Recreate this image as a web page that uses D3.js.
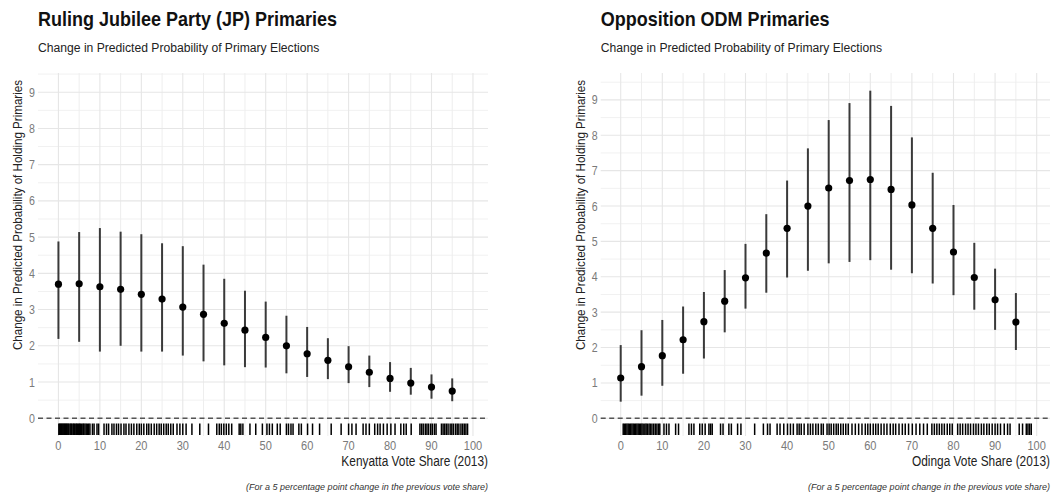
<!DOCTYPE html>
<html lang="en">
<head>
<meta charset="UTF-8">
<title>Primaries</title>
<script src="https://d3js.org/d3.v7.min.js"></script>
<style>
  body { margin: 0; background: #fff; }
  text { font-family: "Liberation Sans", Arial, Helvetica, sans-serif; }
</style>
</head>
<body>
<svg id="chart" width="1059" height="495"></svg>
<script>
// Werte
const voteShare = [0, 5, 10, 15, 20, 25, 30, 35, 40, 45, 50, 55, 60, 65, 70, 75, 80, 85, 90, 95];

const jpEst = [3.70, 3.71, 3.63, 3.56, 3.42, 3.29, 3.07, 2.87, 2.62, 2.43, 2.23, 2.00, 1.78, 1.60, 1.42, 1.27, 1.10, 0.97, 0.86, 0.75];
const jpLow = [2.19, 2.11, 1.84, 2.00, 1.84, 1.84, 1.73, 1.57, 1.46, 1.41, 1.40, 1.24, 1.14, 1.08, 0.97, 0.86, 0.73, 0.65, 0.54, 0.47];
const jpHigh = [4.88, 5.14, 5.25, 5.15, 5.08, 4.83, 4.75, 4.24, 3.85, 3.52, 3.22, 2.83, 2.52, 2.21, 1.99, 1.73, 1.55, 1.39, 1.21, 1.10];

const odmEst = [1.14, 1.46, 1.77, 2.22, 2.73, 3.31, 3.97, 4.67, 5.37, 6.00, 6.51, 6.72, 6.75, 6.47, 6.03, 5.37, 4.70, 3.98, 3.35, 2.72];
const odmLow = [0.47, 0.64, 0.92, 1.26, 1.69, 2.43, 3.10, 3.55, 3.98, 4.17, 4.38, 4.42, 4.47, 4.20, 4.10, 3.81, 3.48, 3.07, 2.50, 1.93];
const odmHigh = [2.07, 2.49, 2.78, 3.16, 3.57, 4.19, 4.93, 5.77, 6.72, 7.63, 8.43, 8.91, 9.26, 8.83, 7.94, 6.94, 6.03, 4.96, 4.23, 3.54];

// Rug: beobachtete Stimmenanteile (geschätzt)
const kenyattaRug = [
  0.1, 0.3, 0.5, 0.7, 0.9, 1.1, 1.3, 1.5, 1.7, 1.9, 2.1, 2.3, 2.5, 2.8, 3.0, 3.2, 3.5, 3.7, 3.9, 4.2, 4.4, 4.6, 4.9, 5.1, 5.3, 5.6, 5.9, 6.1, 6.4, 6.7, 7.0, 7.3, 7.6,
  8.2, 8.6, 9.3, 9.7,
  11.0, 11.6, 12.1, 12.9, 13.4, 14.0, 14.5, 15.1, 15.8, 16.3, 17.0, 17.6, 18.2, 18.9, 19.5, 20.0, 20.6, 21.3, 21.8, 22.4, 23.1, 23.7, 24.3, 24.8, 25.4, 26.0, 26.5, 27.1, 27.7,
  28.6, 29.3, 30.0, 30.8, 32.2, 34.1, 36.2,
  38.2, 38.8, 39.3, 39.9, 40.5, 41.1, 41.8, 43.6, 44.0, 44.5, 46.2, 47.6, 49.2,
  50.3, 50.9, 51.6, 52.8, 53.5, 55.0, 55.5, 56.1, 56.6, 58.0, 58.6, 60.1, 61.3, 63.0, 65.8, 68.2,
  70.0, 70.8, 71.8, 73.5, 74.2, 75.0, 76.3, 77.0, 77.6, 78.4, 79.3, 80.2, 81.2, 82.6, 83.3, 83.9, 85.1,
  87.2, 87.6, 88.0, 88.5, 88.9, 89.3, 89.8, 90.2, 90.7, 91.1, 92.4, 92.8, 93.2, 93.6, 94.0, 94.5, 94.9, 95.3, 95.8, 96.2, 96.6, 97.1, 97.5, 97.9, 98.3, 98.7
];
const odingaRug = [
  0.6, 0.9, 1.2, 1.5, 1.8, 2.1, 2.4, 2.7, 3.0, 3.3, 3.6, 3.9, 4.2, 4.5, 4.8, 5.1, 5.4, 5.8, 6.1, 6.4, 6.8, 7.1, 7.5, 7.9, 8.3, 8.7, 9.1, 9.4,
  10.4, 11.0, 11.6, 13.2, 13.9, 16.4, 17.0, 17.6, 19.0, 19.6, 20.3, 21.2, 21.6, 22.0,
  24.0, 24.6, 26.0, 26.6, 28.1, 28.9, 32.2, 34.3, 35.3, 35.9,
  37.6, 38.3, 39.2, 40.1, 40.8, 41.5, 42.4, 42.9, 43.4, 44.1, 45.0, 45.6, 46.2, 46.9, 47.5, 48.2, 48.7,
  49.6, 50.1, 50.6, 51.2, 51.8, 52.3, 52.9, 53.5, 54.1, 54.7, 55.6, 56.4, 57.2, 58.0,
  58.8, 59.4, 60.0, 60.7, 61.3, 61.9, 62.6, 63.3, 64.0, 64.8, 65.5, 66.1, 66.9, 67.7, 68.4, 69.2,
  70.1, 71.0, 71.9, 72.8, 73.7, 74.8, 75.4, 76.0, 76.6, 77.2, 77.8, 78.5, 79.1, 79.7,
  81.0, 81.6, 82.2, 82.9, 83.5, 84.1, 84.8, 85.4, 86.0, 86.7, 87.3, 88.0, 88.6, 89.3, 90.0, 90.6, 91.3, 92.2, 93.0, 93.6,
  95.8, 96.6, 97.5, 97.9, 98.3, 98.7
];

const xTicks = [0, 10, 20, 30, 40, 50, 60, 70, 80, 90, 100];
const xMinor = [5, 15, 25, 35, 45, 55, 65, 75, 85, 95];
const yTicks = [0, 1, 2, 3, 4, 5, 6, 7, 8, 9];
const yMinor = [0.5, 1.5, 2.5, 3.5, 4.5, 5.5, 6.5, 7.5, 8.5, 9.5];

const titles = ["Ruling Jubilee Party (JP) Primaries", "Opposition ODM Primaries"];
const subtitle = "Change in Predicted Probability of Primary Elections";
const yTitle = "Change in Predicted Probability of Holding Primaries";
const xTitles = ["Kenyatta Vote Share (2013)", "Odinga Vote Share (2013)"];
const caption = "(For a 5 percentage point change in the previous vote share)";

const svg = d3.select('#chart');

// Schmale Schrift nachbilden: Text horizontal stauchen
function label(g, x, y, k, rot) {
  return g.append('text')
    .attr('transform', `translate(${x},${y})` + (rot ? ` rotate(${rot})` : '') + ` scale(${k},1)`);
}

const panels = [
  { left: 38, right: 488, xDom: [-4.93, 103.63], yDom: [-0.49, 9.53],
    est: jpEst, lo: jpLow, hi: jpHigh, rug: kenyattaRug, title: titles[0], xTitle: xTitles[0] },
  { left: 600.7, right: 1050, xDom: [-4.81, 103.2], yDom: [-0.50, 9.76],
    est: odmEst, lo: odmLow, hi: odmHigh, rug: odingaRug, title: titles[1], xTitle: xTitles[1] }
];

const panelTop = 73, panelBottom = 436;

panels.forEach(p => {
  const x = d3.scaleLinear().domain(p.xDom).range([p.left, p.right]);
  const y = d3.scaleLinear().domain(p.yDom).range([panelBottom, panelTop]);
  const g = svg.append('g');

  // Gitter
  g.selectAll('.ymin').data(yMinor).join('line')
    .attr('x1', p.left).attr('x2', p.right)
    .attr('y1', d => y(d)).attr('y2', d => y(d))
    .attr('stroke', '#f1f1f1').attr('stroke-width', 1);
  g.selectAll('.xmin').data(xMinor).join('line')
    .attr('y1', panelTop).attr('y2', panelBottom)
    .attr('x1', d => x(d)).attr('x2', d => x(d))
    .attr('stroke', '#eeeeee').attr('stroke-width', 1);
  g.selectAll('.ymaj').data(yTicks).join('line')
    .attr('x1', p.left).attr('x2', p.right)
    .attr('y1', d => y(d)).attr('y2', d => y(d))
    .attr('stroke', '#e6e6e6').attr('stroke-width', 1.1);
  g.selectAll('.xmaj').data(xTicks).join('line')
    .attr('y1', panelTop).attr('y2', panelBottom)
    .attr('x1', d => x(d)).attr('x2', d => x(d))
    .attr('stroke', '#e6e6e6').attr('stroke-width', 1.1);

  // Null-Linie
  g.append('line')
    .attr('x1', p.left).attr('x2', p.right)
    .attr('y1', y(0)).attr('y2', y(0))
    .attr('stroke', '#555').attr('stroke-width', 1.4)
    .attr('stroke-dasharray', '5,3.5');

  // Rug
  g.selectAll('.rug').data(p.rug).join('line')
    .attr('x1', d => x(d)).attr('x2', d => x(d))
    .attr('y1', panelBottom - 1).attr('y2', panelBottom - 12.5)
    .attr('stroke', '#000').attr('stroke-width', 1.5);

  // Fehlerbalken + Punkte
  g.selectAll('.err').data(voteShare).join('line')
    .attr('x1', d => x(d)).attr('x2', d => x(d))
    .attr('y1', (d, i) => y(p.lo[i])).attr('y2', (d, i) => y(p.hi[i]))
    .attr('stroke', '#3a3a3a').attr('stroke-width', 2);
  g.selectAll('.pt').data(voteShare).join('circle')
    .attr('cx', d => x(d)).attr('cy', (d, i) => y(p.est[i]))
    .attr('r', 3.6).attr('fill', '#000');

  // Achsenbeschriftung
  xTicks.forEach(t => {
    label(g, x(t), 450, 0.85)
      .attr('text-anchor', 'middle').attr('font-size', 13)
      .attr('fill', '#7a7a7a').text(t);
  });
  yTicks.forEach(t => {
    label(g, p.left - 3, y(t) + 4.5, 0.85)
      .attr('text-anchor', 'end').attr('font-size', 12.5)
      .attr('fill', '#7a7a7a').text(t);
  });

  label(g, p.right, 466, 0.82)
    .attr('text-anchor', 'end').attr('font-size', 14.5)
    .attr('fill', '#222').text(p.xTitle);

  label(g, p.left - 16, 215, 0.86, -90)
    .attr('text-anchor', 'middle').attr('font-size', 13.5)
    .attr('fill', '#222').text(yTitle);

  label(g, p.left, 26, 0.857)
    .attr('font-size', 21).attr('font-weight', 'bold')
    .attr('fill', '#111').text(p.title);
  label(g, p.left, 52, 0.9)
    .attr('font-size', 13.5)
    .attr('fill', '#222').text(subtitle);

  label(g, p.right, 490, 0.97)
    .attr('text-anchor', 'end').attr('font-size', 9.3)
    .attr('font-style', 'italic')
    .attr('fill', '#333').text(caption);
});
</script>
</body>
</html>
